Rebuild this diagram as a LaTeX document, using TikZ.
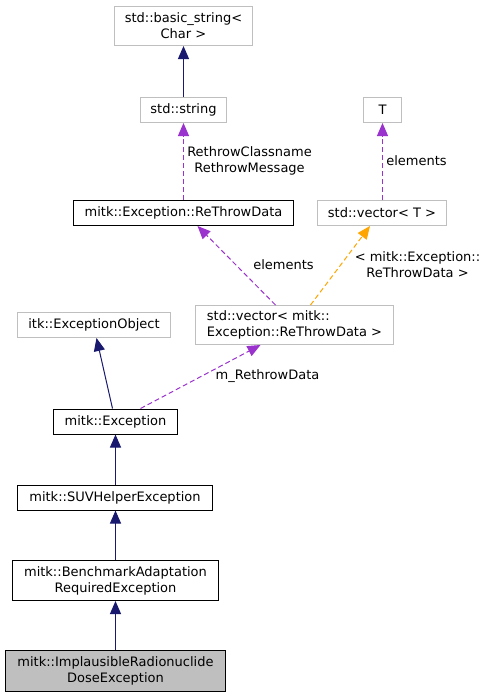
\documentclass[tikz,border=0pt]{standalone}
\usepackage{fontspec}
\setmainfont{DejaVu Sans}
\usetikzlibrary{arrows.meta}
\definecolor{navy}{HTML}{191970}
\definecolor{purp}{HTML}{9A32CD}
\definecolor{orng}{HTML}{FFA500}
\definecolor{lgray}{HTML}{BFBFBF}
\begin{document}
\begin{tikzpicture}[x=1pt,y=-1pt,
  every node/.style={font=\fontsize{13}{16}\selectfont, inner sep=0pt, align=center},
  gbox/.style={draw=lgray, line width=1pt, minimum width=#1, minimum height=25pt},
  kbox/.style={draw=black, line width=1pt, minimum width=#1, minimum height=25pt},
  inh/.style={draw=navy, line width=1pt, -{Triangle[length=13pt,width=11pt]}},
  usep/.style={draw=purp, line width=1pt, dash pattern=on 5pt off 3pt, -{Triangle[length=13pt,width=11pt]}},
  useo/.style={draw=orng, line width=1pt, dash pattern=on 5pt off 3pt, -{Triangle[length=13pt,width=11pt]}}
]
\useasboundingbox (-0.5,-0.5) rectangle (485.5,696.5);
\node[gbox=138pt, minimum height=39pt] (bs) at (183,25.5) {std::basic\_string<\\Char >};
\node[gbox=86pt] (str) at (183,109.5) {std::string};
\node[gbox=38pt] (T) at (382,109.5) {T};
\node[kbox=220pt] (rtd) at (183,212.5) {mitk::Exception::ReThrowData};
\node[gbox=129pt] (vecT) at (381.5,212.5) {std::vector< T >};
\node[gbox=198pt, minimum height=39pt, align=left] (vecR) at (294,324.5) {std::vector< mitk::\\Exception::ReThrowData >};
\node[gbox=153pt] (itk) at (93.5,324.5) {itk::ExceptionObject};
\node[kbox=124pt] (mexc) at (115,421) {mitk::Exception};
\node[kbox=195pt] (suv) at (114.5,497) {mitk::SUVHelperException};
\node[kbox=206pt, minimum height=40pt] (bench) at (115,580) {mitk::BenchmarkAdaptation\\RequiredException};
\node[kbox=220pt, minimum height=41pt, fill=lgray] (impl) at (115,670.5) {mitk::ImplausibleRadionuclide\\DoseException};

\draw[inh] (str.north) -- (bs.south);
\draw[usep] (rtd.north) -- (str.south);
\draw[usep] (vecT.north -| T.south) -- (T.south);
\draw[usep] ([xshift=-19pt]vecR.north) -- ([xshift=14pt]rtd.south);
\draw[useo] ([xshift=16pt]vecR.north) -- ([xshift=-12pt]vecT.south);
\draw[inh] ([xshift=-3pt]mexc.north) -- ([xshift=2.5pt]itk.south);
\draw[usep] ([xshift=25pt]mexc.north) -- ([xshift=-34pt]vecR.south);
\draw[inh] (suv.north -| mexc.north) -- (mexc.south);
\draw[inh] (bench.north) -- (bench.north |- suv.south);
\draw[inh] (impl.north) -- (bench.south);

\node (l1) at (249,160) {RethrowClassname\\RethrowMessage};
\node (l2) at (416,160) {elements};
\node (l3) at (283,264) {elements};
\node (l4) at (417,264) {< mitk::Exception::\\ReThrowData >};
\node (l5) at (267,376) {m\_RethrowData};
\end{tikzpicture}
\end{document}
